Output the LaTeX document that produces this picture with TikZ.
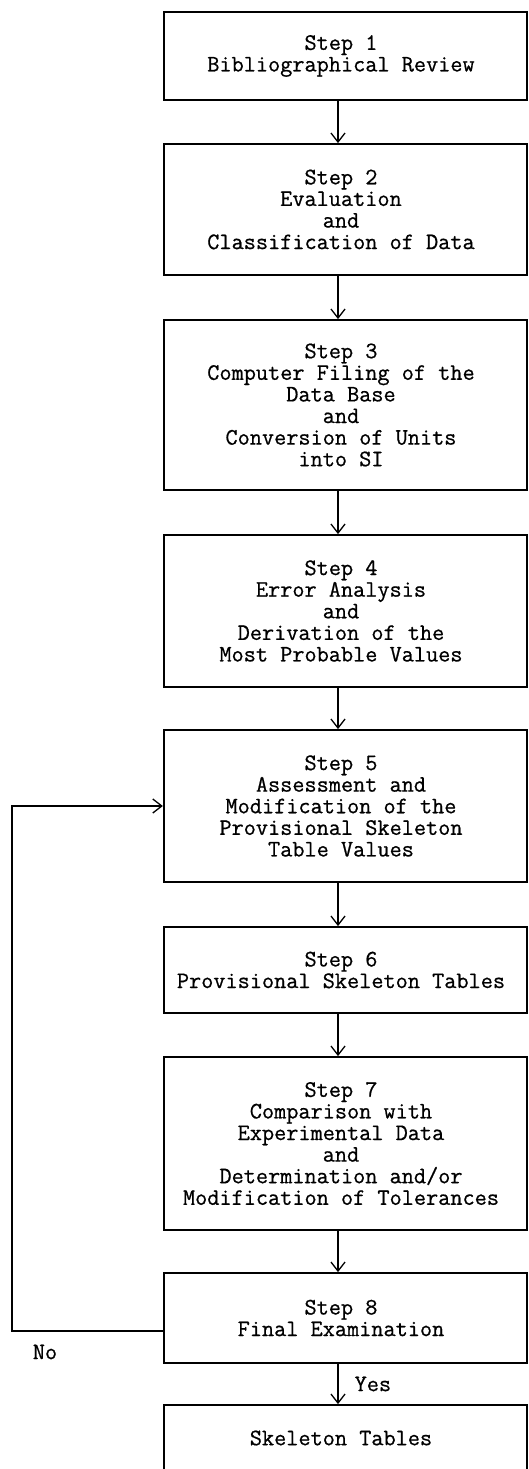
\documentclass[tikz,border=0pt]{standalone}
\usepackage{fontspec}
\newfontfamily\typerfont{Latin Modern Mono}[FakeBold=0.7]
\usepackage{tikz}
\usetikzlibrary{arrows.meta}
\tikzset{
  flowtext/.style = {inner sep=0pt, text centered,
    font=\typerfont\fontsize{23.6}{21.6}\selectfont},
  stepbox/.style = {flowtext, rectangle, draw=black, line width=1.8pt,
    minimum width=363.5pt},% one step of the procedure
  flowline/.style = {->, line width=1.3pt}% arrow between steps
}
\newcommand{\steptext}[1]{\parbox{340pt}{\centering #1}\hspace*{9pt}}

\begin{document}
\begin{tikzpicture}[x=1pt,y=-1pt,>={Straight Barb[length=9pt,width=14pt]}]
  \useasboundingbox (0,0) rectangle (529,1469);
  \node [stepbox, minimum height=88pt]  (s1) at (345.5,56)   {\steptext{Step 1\\Bibliographical Review}};
  \node [stepbox, minimum height=131pt] (s2) at (345.5,209.5) {\steptext{Step 2\\Evaluation\\and\\Classification of Data}};
  \node [stepbox, minimum height=170pt] (s3) at (345.5,405)  {\steptext{Step 3\\Computer Filing of the\\Data Base\\and\\Conversion of Units\\into SI}};
  \node [stepbox, minimum height=152pt] (s4) at (345.5,611)  {\steptext{Step 4\\Error Analysis\\and\\Derivation of the\\Most Probable Values}};
  \node [stepbox, minimum height=152pt] (s5) at (345.5,806)  {\steptext{Step 5\\Assessment and\\Modification of the\\Provisional Skeleton\\Table Values}};
  \node [stepbox, minimum height=86pt]  (s6) at (345.5,970)  {\steptext{Step 6\\Provisional Skeleton Tables}};
  \node [stepbox, minimum height=173pt] (s7) at (345.5,1143.5) {\steptext{Step 7\\Comparison with\\Experimental Data\\and\\Determination and/or\\Modification of Tolerances}};
  \node [stepbox, minimum height=90pt]  (s8) at (345.5,1318) {\steptext{Step 8\\Final Examination}};
  \node [stepbox, minimum height=66pt]  (s9) at (345.5,1438) {\steptext{Skeleton Tables}};

  \foreach \from/\to in {s1/s2,s2/s3,s3/s4,s4/s5,s5/s6,s6/s7,s7/s8}
    \draw [flowline] ([xshift=-7.5pt]\from.south) -- ([xshift=-7.5pt]\to.north);
  \draw [flowline] ([xshift=-7.5pt]s8.south) -- node [flowtext, right=16pt] (yes) {Yes} ([xshift=-7.5pt]s9.north);

  % back to step 5
  \coordinate (loop) at (12,1000);
  \draw [flowline] ([yshift=-13pt]s8.west) -| (loop) |- (s5.west);
  \node [flowtext] (no) at (45,1352) {No};
\end{tikzpicture}
\end{document}
